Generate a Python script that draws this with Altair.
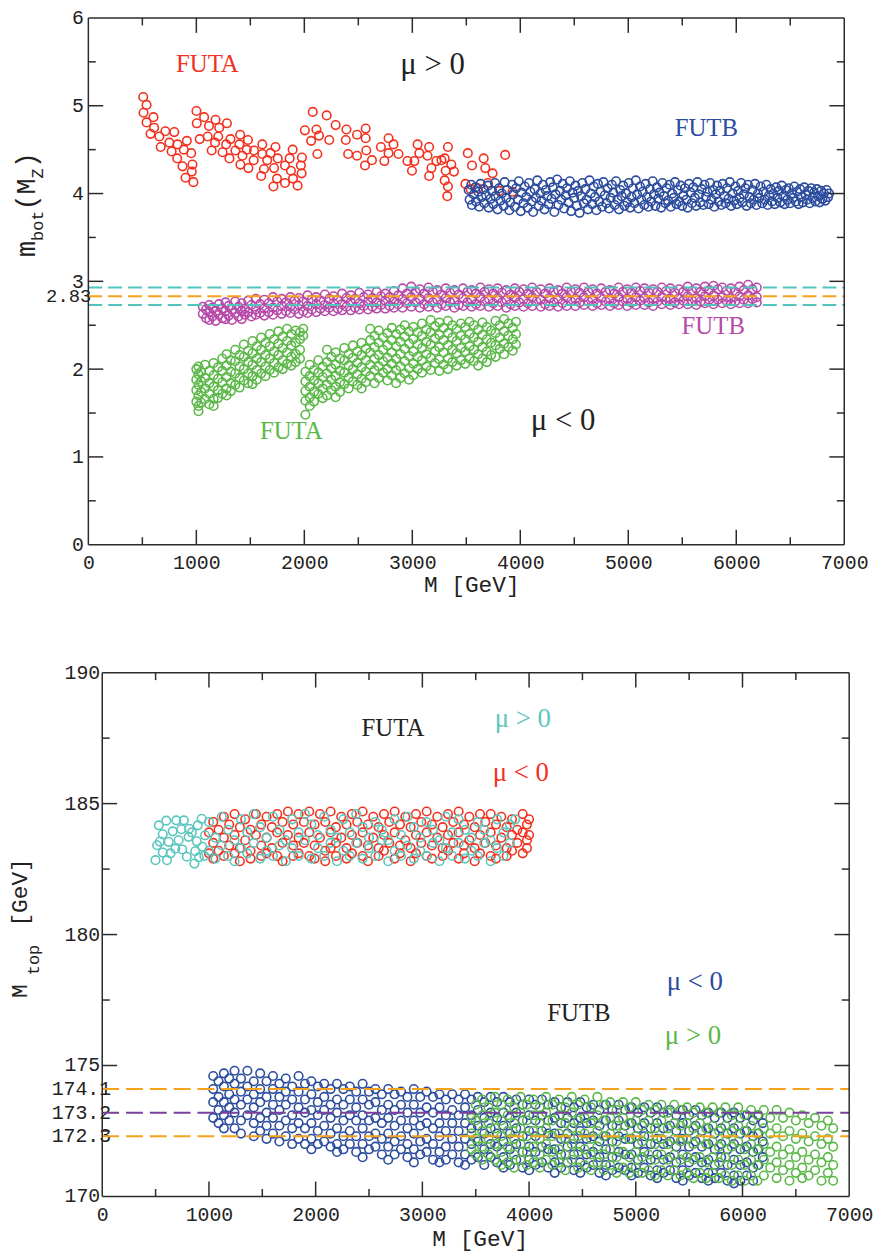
import altair as alt
import pandas as pd

MONO = "Liberation Mono"
SERIF = "Liberation Serif"
AXC = "#2b2b2b"
TXT = "#222222"
RED = "#f2311f"
BLUE = "#2b4c9e"
MAG = "#b74aa9"
GREEN = "#5bb848"
CYAN = "#5cc6be"
ORANGE = "#f6a21d"
PURPLE = "#7b3f9c"
DCYAN = "#52c4bb"

W1, H1 = 762, 531
OFF2 = 14            # bottom panel plot starts 14px right of the top one
W2, H2 = 767, 528    # bottom group; plot spans OFF2..W2

# ---------------- axis values ----------------
x_labels = [0, 1000, 2000, 3000, 4000, 5000, 6000, 7000]
x_major = [1000, 2000, 3000, 4000, 5000, 6000]
x_minor = [500, 1500, 2500, 3500, 4500, 5500, 6500]
top_y_labels = [0, 1, 2, 3, 4, 5, 6]
top_y_major = [1, 2, 3, 4, 5]
top_y_minor = [0.5, 1.5, 2.5, 3.5, 4.5, 5.5]
bot_y_labels = [170, 175, 180, 185, 190]
bot_y_label_text = ["170", "175", "180", "185", "190"]
bot_y_major = [175, 180, 185]
bot_y_minor = [172.5, 177.5, 182.5, 187.5]

top_lines_cyan = [2.73, 2.93]
top_lines_orange = [2.83]
bot_lines_orange = [172.3, 174.1]
bot_lines_purple = [173.2]
top_extra_vals = [2.83]
top_extra_text = ["2.83"]
bot_extra_vals = [174.1, 173.2, 172.3]
bot_extra_text = ["174.1", "173.2", "172.3"]

# ---------------- top panel: m_bot(M_Z) ----------------
futa_pos_top = [
    (508, 5.10), (539, 5.01), (511, 4.92), (603, 4.87), (539, 4.81), (609, 4.75), (576, 4.68),
    (658, 4.65), (713, 4.71), (796, 4.70), (670, 4.53), (750, 4.58), (771, 4.48), (826, 4.56),
    (823, 4.40), (872, 4.31), (912, 4.60), (884, 4.50), (952, 4.46), (964, 4.33), (958, 4.25),
    (900, 4.18), (973, 4.13),
    (1001, 4.94), (1004, 4.80), (1031, 4.62), (1072, 4.87), (1117, 4.77), (1105, 4.65),
    (1142, 4.49), (1178, 4.84), (1212, 4.75), (1203, 4.65), (1173, 4.58), (1283, 4.80),
    (1243, 4.47), (1276, 4.56), (1316, 4.62), (1307, 4.40), (1362, 4.49), (1406, 4.67),
    (1399, 4.56), (1427, 4.43), (1408, 4.33), (1478, 4.61), (1467, 4.50), (1482, 4.29),
    (1534, 4.49), (1531, 4.38), (1611, 4.56), (1611, 4.45), (1626, 4.28), (1601, 4.20),
    (1656, 4.38), (1687, 4.46), (1733, 4.53), (1720, 4.29), (1714, 4.08), (1747, 4.17),
    (1754, 4.40), (1821, 4.32), (1821, 4.12), (1864, 4.40), (1892, 4.50), (1876, 4.26),
    (1895, 4.17), (1938, 4.09), (1968, 4.32), (1975, 4.23), (1978, 4.41),
    (2005, 4.72), (2078, 4.93), (2063, 4.60), (2112, 4.73), (2136, 4.66), (2121, 4.45),
    (2207, 4.89), (2231, 4.61), (2290, 4.78), (2390, 4.73), (2384, 4.61), (2406, 4.45),
    (2488, 4.67), (2568, 4.74), (2568, 4.63), (2488, 4.43), (2574, 4.49), (2562, 4.32),
    (2626, 4.38), (2709, 4.53), (2780, 4.63), (2826, 4.56), (2780, 4.46), (2872, 4.45),
    (2741, 4.37), (2955, 4.37), (3049, 4.56), (3065, 4.46), (3019, 4.37), (2997, 4.26),
    (3156, 4.53), (3141, 4.43), (3223, 4.37), (3177, 4.29), (3156, 4.20), (3330, 4.53),
    (3300, 4.40), (3361, 4.33), (3309, 4.26), (3386, 4.25), (3300, 4.15), (3330, 4.08),
    (3324, 3.97), (3514, 4.46), (3553, 4.32), (3492, 4.11), (3661, 4.40), (3676, 4.29),
    (3743, 4.23), (3860, 4.44), (3270, 4.38), (3606, 4.06), (3805, 4.03), (3928, 4.02),
    (3540, 4.05), (3700, 4.12),
]

futb_pos_top = [
    (3522, 4.04), (3531, 3.93), (3546, 4.10), (3552, 3.87), (3570, 3.99), (3584, 4.07), (3590, 3.91),
    (3611, 4.02), (3619, 3.85), (3632, 4.11), (3641, 3.96), (3660, 4.05), (3667, 3.89), (3684, 3.98),
    (3702, 4.09), (3708, 3.84), (3725, 3.94), (3739, 4.03), (3751, 3.88), (3766, 4.12), (3772, 3.97),
    (3790, 3.82), (3803, 4.06), (3816, 3.92), (3829, 4.00), (3847, 3.86), (3855, 4.13), (3871, 3.95),
    (3880, 4.04), (3898, 3.81), (3907, 3.90), (3925, 4.10), (3933, 3.99), (3950, 3.85), (3962, 4.06),
    (3978, 3.93), (3986, 4.14), (4004, 3.80), (4012, 4.01), (4029, 3.89), (4041, 4.08), (4055, 3.96),
    (4068, 3.84), (4080, 4.12), (4093, 4.02), (4107, 3.91), (4119, 3.79), (4133, 4.05), (4146, 3.95),
    (4158, 4.15), (4171, 3.86), (4185, 4.00), (4197, 3.92), (4210, 4.10), (4224, 3.82), (4236, 4.04),
    (4249, 3.97), (4262, 3.88), (4277, 4.13), (4289, 3.94), (4301, 4.07), (4316, 3.79), (4327, 3.99),
    (4341, 4.16), (4353, 3.87), (4368, 4.03), (4380, 3.93), (4393, 4.11), (4406, 3.83), (4420, 3.98),
    (4432, 4.06), (4446, 3.90), (4459, 4.14), (4471, 3.80), (4484, 4.01), (4498, 3.95), (4510, 4.09),
    (4524, 3.86), (4536, 4.03), (4549, 3.78), (4563, 3.97), (4575, 4.12), (4588, 3.89), (4602, 4.05),
    (4614, 3.93), (4627, 3.82), (4641, 4.15), (4653, 4.00), (4666, 3.88), (4680, 4.08), (4692, 3.96),
    (4705, 3.81), (4719, 4.11), (4731, 3.91), (4744, 4.02), (4758, 3.85), (4770, 4.13), (4783, 3.98),
    (4797, 3.89), (4809, 4.06), (4822, 3.83), (4836, 3.95), (4848, 4.10), (4861, 4.01), (4875, 3.87),
    (4887, 4.14), (4900, 3.93), (4914, 3.82), (4926, 4.04), (4939, 3.97), (4953, 4.09), (4965, 3.86),
    (4978, 4.00), (4992, 3.90), (5004, 4.12), (5017, 3.84), (5031, 3.96), (5043, 4.06), (5056, 3.89),
    (5070, 4.15), (5082, 3.99), (5095, 3.83), (5109, 4.08), (5121, 3.93), (5134, 4.02), (5148, 3.87),
    (5160, 4.11), (5173, 3.96), (5187, 3.85), (5199, 4.05), (5212, 3.91), (5226, 4.14), (5238, 3.99),
    (5251, 3.86), (5265, 4.07), (5277, 3.94), (5290, 4.01), (5304, 3.84), (5316, 4.12), (5329, 3.97),
    (5343, 3.89), (5355, 4.06), (5368, 3.92), (5382, 4.10), (5394, 3.85), (5407, 4.00), (5421, 3.95),
    (5433, 4.13), (5446, 3.88), (5460, 4.04), (5472, 3.91), (5485, 4.09), (5499, 3.86), (5511, 3.98),
    (5524, 4.06), (5538, 3.93), (5550, 3.84), (5563, 4.11), (5577, 4.01), (5589, 3.89), (5602, 4.07),
    (5616, 3.95), (5628, 3.86), (5641, 4.13), (5655, 3.99), (5667, 3.90), (5680, 4.05), (5694, 3.87),
    (5706, 4.10), (5719, 3.96), (5733, 4.02), (5745, 3.88), (5758, 4.12), (5772, 3.93), (5784, 4.04),
    (5797, 3.85), (5811, 3.99), (5823, 4.09), (5836, 3.91), (5850, 4.03), (5862, 3.87), (5875, 4.11),
    (5889, 3.97), (5901, 3.89), (5914, 4.06), (5928, 3.94), (5940, 4.13), (5953, 3.86), (5967, 4.00),
    (5979, 3.92), (5992, 4.08), (6006, 3.88), (6018, 4.03), (6031, 3.95), (6045, 4.12), (6057, 3.90),
    (6070, 3.99), (6084, 4.06), (6096, 3.86), (6109, 4.10), (6123, 3.96), (6135, 3.89), (6148, 4.04),
    (6162, 3.93), (6174, 4.11), (6187, 3.87), (6201, 4.00), (6213, 3.95), (6226, 4.08), (6240, 3.89),
    (6252, 4.02), (6265, 3.93), (6279, 4.10), (6291, 3.87), (6304, 3.98), (6318, 4.05), (6330, 3.91),
    (6343, 4.00), (6357, 3.88), (6369, 4.07), (6382, 3.95), (6396, 4.03), (6408, 3.90), (6421, 4.09),
    (6435, 3.97), (6447, 3.88), (6460, 4.04), (6474, 3.93), (6486, 4.06), (6499, 3.89), (6513, 4.00),
    (6525, 3.95), (6538, 4.08), (6552, 3.91), (6564, 4.02), (6577, 3.88), (6591, 4.05), (6603, 3.96),
    (6616, 3.90), (6630, 4.07), (6642, 3.99), (6655, 3.93), (6669, 4.03), (6681, 3.89), (6694, 4.06),
    (6708, 3.95), (6720, 4.01), (6733, 3.91), (6747, 4.05), (6759, 3.97), (6772, 3.90), (6786, 4.03),
    (6798, 3.94), (6811, 4.00), (6825, 3.92), (6837, 4.04), (6850, 3.96), (6860, 4.00),
]

futb_neg_top = [
    (1060, [2.71, 2.63]), (1090, [2.68, 2.58]), (1120, [2.73, 2.65, 2.56]), (1150, [2.70, 2.60]),
    (1180, [2.66, 2.55]), (1210, [2.74, 2.62]), (1240, [2.69, 2.58]), (1270, [2.76, 2.66, 2.57]),
    (1300, [2.72, 2.61]), (1330, [2.68, 2.56]), (1360, [2.77, 2.64]), (1390, [2.71, 2.60]),
    (1420, [2.75, 2.66, 2.57]), (1450, [2.69, 2.62]), (1480, [2.78, 2.65]), (1510, [2.73, 2.60]),
    (1550, [2.80, 2.68, 2.62]), (1590, [2.74, 2.64]), (1630, [2.79, 2.69, 2.61]), (1670, [2.75, 2.65]),
    (1710, [2.82, 2.70, 2.62]), (1750, [2.77, 2.67]), (1790, [2.80, 2.72, 2.63]), (1830, [2.76, 2.66]),
    (1870, [2.82, 2.71, 2.64]), (1910, [2.78, 2.68]), (1950, [2.81, 2.73, 2.63]), (1990, [2.77, 2.66]),
    (2030, [2.84, 2.72, 2.64]), (2070, [2.79, 2.68]), (2110, [2.82, 2.74, 2.65]), (2150, [2.78, 2.69]),
    (2190, [2.85, 2.73, 2.66]), (2230, [2.80, 2.70]), (2270, [2.83, 2.75, 2.66]), (2310, [2.79, 2.69]),
    (2350, [2.86, 2.74, 2.67]), (2390, [2.81, 2.71]), (2430, [2.84, 2.76, 2.67]), (2470, [2.80, 2.70]),
    (2510, [2.87, 2.75, 2.68]), (2550, [2.82, 2.72]), (2590, [2.85, 2.77, 2.68]), (2630, [2.81, 2.71]),
    (2670, [2.88, 2.76, 2.69]), (2710, [2.83, 2.73]), (2750, [2.86, 2.78, 2.69]), (2790, [2.82, 2.72]),
    (2830, [2.89, 2.77, 2.70]), (2870, [2.84, 2.74]), (2910, [2.92, 2.80, 2.70]), (2950, [2.86, 2.75]),
    (2990, [2.94, 2.82, 2.71]), (3030, [2.88, 2.76]), (3070, [2.91, 2.80, 2.70]), (3110, [2.86, 2.74]),
    (3150, [2.93, 2.81, 2.71]), (3190, [2.88, 2.76]), (3230, [2.90, 2.79, 2.70]), (3270, [2.85, 2.74]),
    (3310, [2.92, 2.81, 2.72]), (3350, [2.87, 2.76]), (3390, [2.90, 2.78, 2.70]), (3430, [2.85, 2.73]),
    (3470, [2.92, 2.81, 2.72]), (3510, [2.88, 2.76]), (3550, [2.90, 2.79, 2.71]), (3590, [2.86, 2.74]),
    (3630, [2.93, 2.82, 2.72]), (3670, [2.88, 2.77]), (3710, [2.91, 2.80, 2.71]), (3750, [2.86, 2.75]),
    (3790, [2.92, 2.81, 2.72]), (3830, [2.87, 2.76]), (3870, [2.90, 2.79, 2.70]), (3910, [2.85, 2.74]),
    (3950, [2.92, 2.82, 2.72]), (3990, [2.88, 2.76]), (4030, [2.91, 2.80, 2.71]), (4070, [2.86, 2.75]),
    (4110, [2.93, 2.82, 2.72]), (4150, [2.88, 2.77]), (4190, [2.91, 2.79, 2.71]), (4230, [2.86, 2.74]),
    (4270, [2.92, 2.81, 2.72]), (4310, [2.88, 2.76]), (4350, [2.90, 2.80, 2.71]), (4390, [2.86, 2.75]),
    (4430, [2.93, 2.82, 2.72]), (4470, [2.88, 2.77]), (4510, [2.91, 2.80, 2.72]), (4550, [2.87, 2.76]),
    (4590, [2.93, 2.82, 2.73]), (4630, [2.88, 2.77]), (4670, [2.91, 2.80, 2.72]), (4710, [2.86, 2.75]),
    (4750, [2.92, 2.81, 2.73]), (4790, [2.88, 2.77]), (4830, [2.90, 2.80, 2.72]), (4870, [2.86, 2.75]),
    (4910, [2.93, 2.82, 2.73]), (4950, [2.88, 2.77]), (4990, [2.91, 2.80, 2.72]), (5030, [2.87, 2.76]),
    (5070, [2.93, 2.82, 2.73]), (5110, [2.89, 2.78]), (5150, [2.92, 2.81, 2.73]), (5190, [2.87, 2.76]),
    (5230, [2.91, 2.80, 2.72]), (5270, [2.88, 2.77]), (5310, [2.93, 2.82, 2.74]), (5350, [2.89, 2.78]),
    (5390, [2.92, 2.80, 2.73]), (5430, [2.87, 2.76]), (5470, [2.91, 2.81, 2.74]), (5510, [2.88, 2.78]),
    (5550, [2.94, 2.83, 2.74]), (5590, [2.89, 2.78]), (5630, [2.92, 2.81, 2.73]), (5670, [2.88, 2.77]),
    (5710, [2.94, 2.83, 2.75]), (5750, [2.90, 2.79]), (5790, [2.95, 2.84, 2.74]), (5830, [2.91, 2.79]),
    (5870, [2.93, 2.82, 2.75]), (5910, [2.89, 2.78]), (5950, [2.92, 2.81, 2.74]), (5990, [2.88, 2.77]),
    (6030, [2.94, 2.83, 2.75]), (6070, [2.90, 2.79]), (6110, [2.96, 2.84, 2.75]), (6150, [2.91, 2.80]),
    (6190, [2.93, 2.82, 2.76]),
]

futa_neg_top = [
    (1000, [2.00, 1.88, 1.76, 1.63]), (1020, [2.03, 1.94, 1.82, 1.70, 1.58, 1.52]),
    (1045, [1.97, 1.86, 1.74, 1.62]), (1080, [2.05, 1.90, 1.78, 1.66]),
    (1120, [1.98, 1.84, 1.72, 1.60]), (1160, [2.07, 1.93, 1.80, 1.66, 1.58]),
    (1200, [2.02, 1.89, 1.76, 1.67]), (1240, [2.12, 1.98, 1.85, 1.72]),
    (1280, [2.17, 2.04, 1.91, 1.78, 1.70]), (1320, [2.10, 1.97, 1.84, 1.75]),
    (1360, [2.22, 2.09, 1.95, 1.82]), (1400, [2.16, 2.03, 1.90, 1.79]),
    (1440, [2.28, 2.14, 2.00, 1.87]), (1480, [2.21, 2.08, 1.95, 1.84]),
    (1520, [2.32, 2.18, 2.05, 1.92, 1.83]), (1560, [2.26, 2.12, 1.99, 1.88]),
    (1600, [2.36, 2.22, 2.08, 1.95]), (1640, [2.30, 2.16, 2.03, 1.92]),
    (1680, [2.40, 2.26, 2.12, 1.99]), (1720, [2.34, 2.20, 2.07, 1.96]),
    (1760, [2.43, 2.29, 2.16, 2.02]), (1800, [2.37, 2.24, 2.10, 2.00]),
    (1840, [2.46, 2.32, 2.19, 2.06]), (1880, [2.40, 2.27, 2.14, 2.04]),
    (1920, [2.44, 2.30, 2.17, 2.08]), (1960, [2.42, 2.34, 2.22, 2.12]), (1990, [2.46, 2.38]),
    (2010, [1.97, 1.86, 1.75, 1.64, 1.48]), (2050, [2.05, 1.92, 1.80, 1.68, 1.58]),
    (2090, [1.99, 1.87, 1.74, 1.63]), (2130, [2.10, 1.96, 1.84, 1.72]),
    (2170, [2.03, 1.91, 1.78, 1.67]), (2210, [2.22, 2.08, 1.95, 1.82, 1.70]),
    (2250, [2.14, 2.01, 1.88, 1.76]), (2290, [2.19, 2.05, 1.92, 1.80, 1.68]),
    (2330, [2.12, 1.98, 1.85, 1.74]), (2370, [2.24, 2.10, 1.96, 1.83]),
    (2410, [2.17, 2.04, 1.90, 1.78]), (2450, [2.27, 2.13, 2.00, 1.86]),
    (2490, [2.20, 2.07, 1.94, 1.82]), (2530, [2.30, 2.16, 2.02, 1.89, 1.78]),
    (2570, [2.23, 2.10, 1.97, 1.85]), (2610, [2.46, 2.33, 2.19, 2.05, 1.92]),
    (2650, [2.38, 2.25, 2.12, 1.99, 1.84]), (2690, [2.44, 2.30, 2.16, 2.03, 1.90]),
    (2730, [2.36, 2.22, 2.09, 1.96]), (2770, [2.41, 2.27, 2.13, 2.00, 1.87]),
    (2810, [2.47, 2.33, 2.19, 2.06, 1.93]), (2850, [2.40, 2.26, 2.12, 1.99, 1.84]),
    (2890, [2.45, 2.31, 2.17, 2.03, 1.90]), (2930, [2.50, 2.37, 2.23, 2.09, 1.95]),
    (2970, [2.43, 2.29, 2.15, 2.01, 1.88]), (3010, [2.48, 2.34, 2.20, 2.06, 1.93]),
    (3050, [2.42, 2.28, 2.14, 2.00]), (3090, [2.52, 2.38, 2.24, 2.10, 1.96]),
    (3130, [2.45, 2.31, 2.17, 2.03]), (3170, [2.56, 2.42, 2.28, 2.13, 1.99]),
    (3210, [2.49, 2.35, 2.21, 2.07]), (3250, [2.53, 2.39, 2.25, 2.11, 1.98]),
    (3290, [2.47, 2.33, 2.19, 2.05]), (3330, [2.55, 2.41, 2.27, 2.12, 2.00]),
    (3370, [2.50, 2.36, 2.22, 2.08]), (3410, [2.46, 2.32, 2.18, 2.04]),
    (3450, [2.52, 2.38, 2.24, 2.10]), (3490, [2.48, 2.34, 2.20, 2.06]),
    (3530, [2.54, 2.40, 2.26, 2.12]), (3570, [2.50, 2.36, 2.22, 2.09]),
    (3610, [2.45, 2.31, 2.17, 2.04]), (3650, [2.53, 2.39, 2.25, 2.12]),
    (3690, [2.48, 2.34, 2.20, 2.08]), (3730, [2.44, 2.30, 2.16]),
    (3770, [2.55, 2.41, 2.27, 2.14]), (3810, [2.50, 2.36, 2.23]),
    (3850, [2.57, 2.43, 2.29, 2.17]), (3890, [2.52, 2.38, 2.25]),
    (3930, [2.47, 2.34, 2.21]), (3960, [2.54, 2.40, 2.28]),
]

# ---------------- bottom panel: M_top ----------------
futa_pos_bot_left = [
    (530, 184.17), (499, 182.84), (514, 183.41), (567, 183.83), (567, 183.13), (607, 182.84),
    (623, 183.54), (660, 183.94), (685, 183.28), (694, 184.36), (716, 183.60), (741, 184.02),
    (765, 184.36), (793, 182.97), (809, 183.73), (815, 184.04), (864, 182.71), (871, 183.18),
    (886, 183.56), (895, 184.17), (932, 184.42), (939, 183.35), (964, 183.79), (957, 183.00),
    (540, 183.55), (600, 184.35), (640, 183.10), (750, 183.25), (840, 183.90), (905, 182.95),
]
futa_pos_bot = [
    (1000, [184.3, 183.2]), (1060, [183.7, 182.9]), (1120, [184.5, 183.4]), (1180, [184.0, 183.0]),
    (1240, [183.6, 182.8]), (1300, [184.4, 183.3]), (1360, [183.9, 183.1]), (1420, [184.6, 183.5]),
    (1480, [184.1, 182.9]), (1540, [183.7, 183.2]), (1600, [184.5, 183.0]), (1660, [184.0, 183.4]),
    (1720, [183.6, 182.8]), (1780, [184.4, 183.3]), (1840, [183.9, 183.0]), (1900, [184.6, 183.6]),
    (1960, [184.2, 182.9]), (2020, [183.8, 183.3]), (2080, [184.5, 183.0]), (2140, [184.0, 183.5]),
    (2200, [183.7, 182.8]), (2260, [184.4, 183.2]), (2320, [183.9, 183.0]), (2380, [184.6, 183.5]),
    (2440, [184.1, 182.9]), (2500, [183.7, 183.3]), (2560, [184.3, 183.0]), (2620, [184.0, 183.6]),
    (2680, [183.6, 182.8]), (2740, [184.4, 183.2]), (2800, [183.8, 183.0]), (2860, [184.5, 183.4]),
    (2920, [184.1, 182.9]), (2980, [183.7, 183.2]), (3040, [184.3, 183.0]), (3100, [184.0, 183.5]),
    (3160, [183.6, 182.8]), (3220, [184.5, 183.3]), (3280, [183.9, 183.0]), (3340, [184.4, 183.5]),
    (3400, [184.0, 182.9]), (3460, [183.7, 183.2]), (3520, [184.3, 183.0]), (3580, [184.0, 183.5]),
    (3640, [183.6, 182.8]), (3700, [184.4, 183.3]), (3760, [183.9, 183.0]), (3820, [184.2, 183.5]),
    (3870, [184.4]),
]
futa_neg_bot = [
    (1000, [183.9, 183.1]), (1040, [184.3, 183.5, 182.9]), (1090, [184.0, 183.2]),
    (1140, [184.5, 183.7, 183.0]), (1190, [184.2, 183.4]), (1240, [184.6, 183.8, 183.1]),
    (1290, [184.1, 183.3, 182.8]), (1340, [184.4, 183.6]), (1390, [184.0, 183.2, 182.9]),
    (1440, [184.6, 183.8]), (1490, [184.2, 183.4, 183.0]), (1540, [184.5, 183.7, 183.1]),
    (1590, [184.1, 183.3]), (1640, [184.6, 183.9, 183.0]), (1690, [184.3, 183.5, 182.8]),
    (1740, [184.7, 183.8]), (1790, [184.2, 183.4, 183.0]), (1840, [184.6, 183.7, 183.1]),
    (1890, [184.3, 183.5]), (1940, [184.7, 183.9, 183.0]), (1990, [184.2, 183.4, 182.9]),
    (2040, [184.6, 183.7]), (2090, [184.3, 183.2, 182.8]), (2140, [184.7, 183.9, 183.3]),
    (2190, [184.1, 183.5, 183.0]), (2240, [184.5, 183.7]), (2290, [184.2, 183.3, 182.9]),
    (2340, [184.6, 183.8, 183.1]), (2390, [184.3, 183.5]), (2440, [184.7, 183.9, 183.0]),
    (2490, [184.2, 183.4, 182.8]), (2540, [184.5, 183.7]), (2590, [184.1, 183.3, 183.0]),
    (2640, [184.6, 183.8, 183.2]), (2690, [184.3, 183.5]), (2740, [184.7, 183.9, 182.9]),
    (2790, [184.2, 183.4, 183.1]), (2840, [184.5, 183.6]), (2890, [184.1, 183.3, 182.8]),
    (2940, [184.6, 183.8, 183.1]), (2990, [184.3, 183.5]), (3040, [184.7, 183.9, 183.0]),
    (3090, [184.2, 183.4, 182.9]), (3140, [184.5, 183.7]), (3190, [184.1, 183.3, 183.0]),
    (3240, [184.6, 183.8, 183.2]), (3290, [184.3, 183.5]), (3340, [184.7, 183.9, 182.9]),
    (3390, [184.2, 183.4, 183.1]), (3440, [184.5, 183.6]), (3490, [184.1, 183.3, 182.8]),
    (3540, [184.6, 183.8, 183.1]), (3590, [184.3, 183.5]), (3640, [184.6, 183.9, 183.0]),
    (3690, [184.2, 183.4, 182.9]), (3740, [184.5, 183.7]), (3790, [184.1, 183.3, 183.0]),
    (3840, [184.4, 183.8, 183.2]), (3890, [184.0, 183.5]), (3940, [184.6, 183.9, 183.1]),
    (3980, [184.2, 183.6, 183.3]), (4000, [184.4, 183.8]),
]
futb_neg_bot = [
    (1040, [174.6, 174.1, 173.6, 173.0]), (1090, [174.4, 173.8, 173.3, 172.8]),
    (1140, [174.7, 174.2, 173.6, 173.1, 172.6]), (1190, [174.5, 173.9, 173.4, 172.9]),
    (1240, [174.8, 174.3, 173.7, 173.2, 172.6]), (1300, [174.5, 174.0, 173.5, 172.9, 172.4]),
    (1360, [174.8, 174.2, 173.7, 173.1]), (1420, [174.4, 173.9, 173.4, 172.8, 172.3]),
    (1480, [174.7, 174.1, 173.6, 173.0, 172.5]), (1540, [174.4, 173.8, 173.2, 172.7, 172.2]),
    (1600, [174.6, 174.1, 173.5, 173.0, 172.4]), (1660, [174.3, 173.8, 173.3, 172.7, 172.1]),
    (1720, [174.5, 174.0, 173.5, 172.9, 172.3]), (1780, [174.2, 173.7, 173.1, 172.6, 172.0]),
    (1840, [174.6, 174.0, 173.4, 172.8, 172.2]), (1900, [174.3, 173.7, 173.2, 172.6, 172.0]),
    (1960, [174.4, 173.9, 173.3, 172.8, 172.2, 171.8]), (2020, [174.2, 173.6, 173.1, 172.5, 172.0]),
    (2080, [174.3, 173.8, 173.3, 172.7, 172.1]), (2140, [174.1, 173.5, 173.0, 172.4, 171.9]),
    (2200, [174.3, 173.7, 173.2, 172.6, 172.0, 171.7]), (2260, [174.1, 173.5, 172.9, 172.3, 171.8]),
    (2320, [174.2, 173.7, 173.1, 172.5, 172.0]), (2380, [174.0, 173.4, 172.9, 172.3, 171.7]),
    (2440, [174.3, 173.7, 173.1, 172.6, 172.0, 171.5]), (2500, [174.0, 173.5, 172.9, 172.3, 171.8]),
    (2560, [174.1, 173.6, 173.0, 172.4, 171.9]), (2620, [173.9, 173.3, 172.8, 172.2, 171.6]),
    (2680, [174.1, 173.5, 173.0, 172.4, 171.9, 171.4]), (2740, [173.9, 173.3, 172.7, 172.1, 171.6]),
    (2800, [174.0, 173.5, 172.9, 172.3, 171.8]), (2860, [173.8, 173.2, 172.6, 172.0, 171.5]),
    (2920, [174.1, 173.5, 172.9, 172.4, 171.8, 171.3]), (2980, [173.8, 173.2, 172.7, 172.1, 171.6]),
    (3040, [174.0, 173.4, 172.8, 172.2, 171.7]), (3100, [173.8, 173.2, 172.6, 172.0, 171.4]),
    (3160, [173.9, 173.4, 172.8, 172.3, 171.7, 171.3]), (3220, [173.7, 173.1, 172.5, 171.9, 171.4]),
    (3280, [173.9, 173.3, 172.8, 172.2, 171.6]), (3340, [173.7, 173.1, 172.5, 171.9, 171.3]),
    (3400, [173.9, 173.4, 172.8, 172.2, 171.6, 171.2]), (3460, [173.7, 173.1, 172.6, 172.0, 171.4]),
    (3520, [173.8, 173.3, 172.7, 172.1, 171.5]), (3580, [173.6, 173.0, 172.4, 171.8, 171.2]),
    (3640, [173.8, 173.2, 172.6, 172.0, 171.5]), (3700, [173.6, 173.0, 172.4, 171.9, 171.3]),
    (3760, [173.8, 173.2, 172.7, 172.1, 171.5, 171.1]), (3820, [173.6, 173.0, 172.4, 171.8, 171.2]),
    (3880, [173.7, 173.2, 172.6, 172.0, 171.4]), (3940, [173.5, 172.9, 172.3, 171.7, 171.1]),
    (4000, [173.7, 173.1, 172.5, 171.9, 171.4, 171.0]), (4060, [173.5, 172.9, 172.3, 171.7, 171.2]),
    (4120, [173.7, 173.1, 172.5, 171.9, 171.3]), (4180, [173.5, 172.9, 172.4, 171.8, 171.1]),
    (4240, [173.6, 173.0, 172.4, 171.8, 171.3, 170.9]), (4300, [173.4, 172.8, 172.2, 171.6, 171.1]),
    (4360, [173.6, 173.0, 172.4, 171.9, 171.3]), (4420, [173.4, 172.8, 172.2, 171.6, 171.0]),
    (4480, [173.6, 173.0, 172.5, 171.9, 171.3, 170.9]), (4540, [173.4, 172.8, 172.2, 171.6, 171.1]),
    (4600, [173.5, 172.9, 172.3, 171.7, 171.2]), (4660, [173.3, 172.7, 172.1, 171.5, 170.9]),
    (4720, [173.5, 172.9, 172.3, 171.8, 171.2, 170.8]), (4780, [173.3, 172.7, 172.1, 171.5, 171.0]),
    (4840, [173.5, 172.9, 172.3, 171.7, 171.1]), (4900, [173.3, 172.7, 172.2, 171.6, 171.0]),
    (4960, [173.4, 172.8, 172.2, 171.6, 171.1, 170.8]), (5020, [173.2, 172.6, 172.0, 171.4, 170.9]),
    (5080, [173.4, 172.8, 172.3, 171.7, 171.1]), (5140, [173.2, 172.6, 172.0, 171.4, 170.8]),
    (5200, [173.4, 172.8, 172.2, 171.6, 171.0, 170.7]), (5260, [173.2, 172.6, 172.0, 171.4, 170.9]),
    (5320, [173.3, 172.7, 172.1, 171.5, 171.0]), (5380, [173.1, 172.5, 171.9, 171.3, 170.7]),
    (5440, [173.3, 172.8, 172.2, 171.6, 171.0, 170.6]), (5500, [173.1, 172.5, 171.9, 171.3, 170.8]),
    (5560, [173.3, 172.7, 172.1, 171.5, 170.9]), (5620, [173.1, 172.5, 171.9, 171.3, 170.7]),
    (5680, [173.2, 172.6, 172.0, 171.4, 170.9, 170.6]), (5740, [173.0, 172.4, 171.8, 171.2, 170.7]),
    (5800, [173.2, 172.6, 172.0, 171.5, 170.9]), (5860, [173.0, 172.4, 171.8, 171.2, 170.6]),
    (5920, [173.2, 172.6, 172.0, 171.4, 170.8, 170.5]), (5980, [173.0, 172.4, 171.8, 171.2, 170.6]),
    (6040, [173.1, 172.5, 171.9, 171.3, 170.8]), (6100, [172.9, 172.3, 171.7, 171.1, 170.6]),
    (6150, [173.1, 172.4, 171.8, 171.2]), (6190, [172.8, 172.1, 171.5]),
]
futb_pos_bot = [
    (3460, [173.0, 172.4, 171.8]), (3500, [173.5, 172.9, 172.2, 171.6]),
    (3560, [173.7, 173.1, 172.5, 171.9, 171.4]), (3620, [173.4, 172.8, 172.2, 171.6]),
    (3680, [173.8, 173.2, 172.6, 172.0, 171.4]), (3740, [173.5, 172.9, 172.3, 171.7, 171.2]),
    (3800, [173.7, 173.1, 172.5, 171.9, 171.3]), (3860, [173.4, 172.8, 172.2, 171.6, 171.1]),
    (3920, [173.8, 173.2, 172.6, 172.0, 171.4]), (3980, [173.5, 172.9, 172.3, 171.7, 171.2]),
    (4040, [173.7, 173.1, 172.5, 171.9, 171.3]), (4100, [173.4, 172.8, 172.2, 171.6, 171.1]),
    (4160, [173.8, 173.2, 172.6, 172.0, 171.4]), (4220, [173.5, 172.9, 172.3, 171.7, 171.2]),
    (4280, [173.7, 173.1, 172.4, 171.8, 171.3]), (4340, [173.4, 172.8, 172.2, 171.6, 171.0]),
    (4400, [173.8, 173.2, 172.6, 172.0, 171.4]), (4460, [173.5, 172.9, 172.3, 171.7, 171.1]),
    (4520, [173.7, 173.0, 172.4, 171.8, 171.2]), (4580, [173.4, 172.8, 172.2, 171.6, 171.0]),
    (4640, [173.8, 173.1, 172.5, 171.9, 171.3]), (4700, [173.5, 172.9, 172.3, 171.6, 171.0]),
    (4760, [173.6, 173.0, 172.4, 171.8, 171.2]), (4820, [173.3, 172.7, 172.1, 171.5, 170.9]),
    (4880, [173.6, 173.0, 172.4, 171.7, 171.1]), (4940, [173.4, 172.8, 172.2, 171.5, 170.9]),
    (5000, [173.6, 172.9, 172.3, 171.7, 171.1]), (5060, [173.3, 172.7, 172.1, 171.5, 170.9]),
    (5120, [173.5, 172.9, 172.3, 171.6, 171.0]), (5180, [173.3, 172.6, 172.0, 171.4, 170.8]),
    (5240, [173.5, 172.9, 172.2, 171.6, 171.0]), (5300, [173.2, 172.6, 172.0, 171.4, 170.8]),
    (5360, [173.5, 172.8, 172.2, 171.6, 171.0]), (5420, [173.3, 172.7, 172.1, 171.4, 170.8]),
    (5480, [173.4, 172.8, 172.2, 171.5, 170.9]), (5540, [173.2, 172.6, 172.0, 171.4, 170.7]),
    (5600, [173.4, 172.8, 172.2, 171.5, 170.9]), (5660, [173.2, 172.6, 172.0, 171.3, 170.7]),
    (5720, [173.4, 172.7, 172.1, 171.5, 170.9]), (5780, [173.2, 172.5, 171.9, 171.3, 170.7]),
    (5840, [173.4, 172.7, 172.1, 171.5, 170.8]), (5900, [173.1, 172.5, 171.9, 171.2, 170.6]),
    (5960, [173.4, 172.7, 172.1, 171.4, 170.8]), (6020, [173.1, 172.5, 171.8, 171.2, 170.6]),
    (6080, [173.3, 172.7, 172.0, 171.4, 170.8]), (6140, [173.1, 172.4, 171.8, 171.2, 170.6]),
    (6200, [173.3, 172.6, 172.0, 171.4, 170.8]), (6260, [173.0, 172.4, 171.7, 171.1]),
    (6320, [173.3, 172.6, 171.9, 171.3, 170.7]), (6380, [173.0, 172.3, 171.6, 171.0]),
    (6440, [173.2, 172.5, 171.8, 171.2, 170.6]), (6500, [172.9, 172.2, 171.5, 170.9]),
    (6560, [173.1, 172.4, 171.7, 171.1, 170.7]), (6620, [172.8, 172.1, 171.4, 170.8]),
    (6680, [173.0, 172.3, 171.6, 171.0]), (6740, [172.7, 172.0, 171.3, 170.6]),
    (6800, [172.9, 172.2, 171.5, 170.9]), (6850, [172.6, 171.9, 171.2, 170.6]),
]


def from_pairs(pairs):
    return pd.DataFrame({"M": [p[0] for p in pairs], "v": [p[1] for p in pairs]})


def from_cols(cols):
    xs_, ys_ = [], []
    for x, ys in cols:
        for y in ys:
            xs_.append(x)
            ys_.append(y)
    return pd.DataFrame({"M": xs_, "v": ys_})


one = pd.DataFrame({"a": [0]})
PT_SIZE = 74


def pts(df, color, xs, ys, x_axis=None, y_axis=None):
    return alt.Chart(df).mark_point(
        shape="circle", filled=False, size=PT_SIZE, strokeWidth=1.6, color=color, opacity=1
    ).encode(
        x=alt.X("M:Q", scale=xs, axis=x_axis),
        y=alt.Y("v:Q", scale=ys, axis=y_axis),
    )


def ticks(xs, ys, X0, X1, H, xmaj, xmin, ymaj, ymin):
    out = []
    for vals, L in ((xmaj, 15), (xmin, 7.5)):
        d = pd.DataFrame({"v": vals})
        b = alt.Chart(d).mark_rule(color=AXC, strokeWidth=1.5)
        out.append(b.encode(x=alt.X("v:Q", scale=xs, axis=None), y=alt.value(H), y2=alt.value(H - L)))
        out.append(b.encode(x=alt.X("v:Q", scale=xs, axis=None), y=alt.value(0), y2=alt.value(L)))
    for vals, L in ((ymaj, 15), (ymin, 7.5)):
        d = pd.DataFrame({"v": vals})
        b = alt.Chart(d).mark_rule(color=AXC, strokeWidth=1.5)
        out.append(b.encode(y=alt.Y("v:Q", scale=ys, axis=None), x=alt.value(X0), x2=alt.value(X0 + L)))
        out.append(b.encode(y=alt.Y("v:Q", scale=ys, axis=None), x=alt.value(X1), x2=alt.value(X1 - L)))
    return out


def frame(X0, X1, H):
    b = alt.Chart(one).mark_rule(color=AXC, strokeWidth=1.5)
    return [
        b.encode(x=alt.value(X0), x2=alt.value(X1), y=alt.value(0)),
        b.encode(x=alt.value(X0), x2=alt.value(X1), y=alt.value(H)),
        b.encode(x=alt.value(X0), y=alt.value(0), y2=alt.value(H)),
        b.encode(x=alt.value(X1), y=alt.value(0), y2=alt.value(H)),
    ]


def hlines(vals, color, ys, X0, X1, dash):
    return alt.Chart(pd.DataFrame({"v": vals})).mark_rule(
        color=color, strokeWidth=2, strokeDash=dash
    ).encode(y=alt.Y("v:Q", scale=ys, axis=None), x=alt.value(X0), x2=alt.value(X1))


def side_labels(vals, texts, ys, xpos, size=20):
    return alt.Chart(pd.DataFrame({"v": vals, "t": texts})).mark_text(
        align="right", baseline="middle", font=MONO, fontSize=size, color=TXT
    ).encode(y=alt.Y("v:Q", scale=ys, axis=None), x=alt.value(xpos), text="t:N")


def note(x, y, txt, color, size, font, xs, ys):
    return alt.Chart(pd.DataFrame({"M": [x], "v": [y], "t": [txt]})).mark_text(
        align="center", baseline="alphabetic", font=font, fontSize=size, color=color
    ).encode(x=alt.X("M:Q", scale=xs, axis=None), y=alt.Y("v:Q", scale=ys, axis=None), text="t:N")


def piece(txt, x, y, size, angle=270, align="left", baseline="alphabetic"):
    return alt.Chart(one).mark_text(
        text=txt, angle=angle, align=align, baseline=baseline, font=MONO, fontSize=size, color=TXT
    ).encode(x=alt.value(x), y=alt.value(y))


def anchor(x, y0, y1):
    return alt.Chart(one).mark_rule(strokeOpacity=0, strokeWidth=1).encode(
        x=alt.value(x), y=alt.value(y0), y2=alt.value(y1)
    )


def xaxis(pad):
    return alt.Axis(values=x_labels, format="d", ticks=False, tickSize=0, domain=False, grid=False,
                    labelFont=MONO, labelFontSize=20, labelColor=TXT, labelPadding=pad,
                    labelFlush=False, labelOverlap=False, title=None)


def yaxis(vals, pad):
    return alt.Axis(values=vals, format="d", ticks=False, tickSize=0, domain=False, grid=False,
                    labelFont=MONO, labelFontSize=20, labelColor=TXT, labelPadding=pad,
                    labelFlush=False, labelOverlap=False, title=None)


FUT = SERIF
FUT_SIZE = 25

# ---------------- top chart ----------------
xs1 = alt.Scale(domain=[0, 7000], range=[0, W1], nice=False, zero=False)
ys1 = alt.Scale(domain=[0, 6], nice=False, zero=False)

top_layers = [
    pts(from_pairs(futa_pos_top), RED, xs1, ys1, xaxis(8), yaxis(top_y_labels, 5)),
    pts(from_pairs(futb_pos_top), BLUE, xs1, ys1),
    pts(from_cols(futb_neg_top), MAG, xs1, ys1),
    pts(from_cols(futa_neg_top), GREEN, xs1, ys1),
    side_labels(top_extra_vals, top_extra_text, ys1, 3, 19),
    hlines(top_lines_cyan, DCYAN, ys1, 0, W1, [14, 6]),
    hlines(top_lines_orange, ORANGE, ys1, 0, W1, [14, 6]),
    note(1102, 5.38, "FUTA", RED, FUT_SIZE, FUT, xs1, ys1),
    note(3188, 5.36, "\u03bc > 0", TXT, 31, SERIF, xs1, ys1),
    note(5723, 4.655, "FUTB", BLUE, FUT_SIZE, FUT, xs1, ys1),
    note(5787, 2.395, "FUTB", MAG, FUT_SIZE, FUT, xs1, ys1),
    note(1879, 1.209, "FUTA", GREEN, FUT_SIZE, FUT, xs1, ys1),
    note(4396, 1.311, "\u03bc < 0", TXT, 31, SERIF, xs1, ys1),
    piece("m", -54, 241, 27),
    piece("bot", -46, 224.8, 17),
    piece("(M", -54, 194.2, 27),
    piece("Z", -46, 161.8, 17),
    piece(")", -54, 151.6, 27),
    piece("M  [GeV]", 386.5, H1 + 48, 23, angle=0, align="center"),
    anchor(-81, -12, H1 + 64),
] + frame(0, W1, H1) + ticks(xs1, ys1, 0, W1, H1, x_major, x_minor, top_y_major, top_y_minor)

top = alt.layer(*top_layers).resolve_axis(x="independent", y="independent").properties(width=W1, height=H1)

# ---------------- bottom chart ----------------
xs2 = alt.Scale(domain=[0, 7000], range=[OFF2, W2], nice=False, zero=False)
ys2 = alt.Scale(domain=[170, 190], nice=False, zero=False)

bot_layers = [
    pts(from_cols(futb_neg_bot), BLUE, xs2, ys2, xaxis(8), None),
    pts(from_cols(futb_pos_bot), GREEN, xs2, ys2),
    pts(from_cols(futa_neg_bot), RED, xs2, ys2),
    pts(pd.concat([from_pairs(futa_pos_bot_left), from_cols(futa_pos_bot)]), CYAN, xs2, ys2),
    side_labels(bot_y_labels, bot_y_label_text, ys2, OFF2 - 2),
    side_labels(bot_extra_vals, bot_extra_text, ys2, OFF2 + 9),
    hlines(bot_lines_orange, ORANGE, ys2, OFF2, W2, [17, 7]),
    hlines(bot_lines_purple, PURPLE, ys2, OFF2, W2, [17, 7]),
    note(2724, 187.58, "FUTA", TXT, FUT_SIZE, FUT, xs2, ys2),
    note(3942, 187.92, "\u03bc > 0", CYAN, 27, SERIF, xs2, ys2),
    note(3923, 185.88, "\u03bc < 0", RED, 27, SERIF, xs2, ys2),
    note(5554, 177.88, "\u03bc < 0", BLUE, 27, SERIF, xs2, ys2),
    note(4467, 176.70, "FUTB", TXT, FUT_SIZE, FUT, xs2, ys2),
    note(5536, 175.83, "\u03bc > 0", GREEN, 27, SERIF, xs2, ys2),
    piece("M", OFF2 - 76, 328, 23),
    piece("top", OFF2 - 64, 305, 17),
    piece("[GeV]", OFF2 - 76, 256, 23),
    piece("M  [GeV]", OFF2 + 381, H2 + 50, 23, angle=0, align="center"),
    anchor(-81, -12, H2 + 10),
] + frame(OFF2, W2, H2) + ticks(xs2, ys2, OFF2, W2, H2, x_major, x_minor, bot_y_major, bot_y_minor)

bot = alt.layer(*bot_layers).resolve_axis(x="independent", y="independent").properties(width=W2, height=H2)

chart = alt.vconcat(top, bot, spacing=53).resolve_scale(
    x="independent", y="independent"
).properties(
    padding={"left": 0, "top": -7, "right": 0, "bottom": 0}
).configure_view(stroke=None, strokeWidth=0)

chart.save("out.html", embed_options={"renderer": "svg", "actions": False})
